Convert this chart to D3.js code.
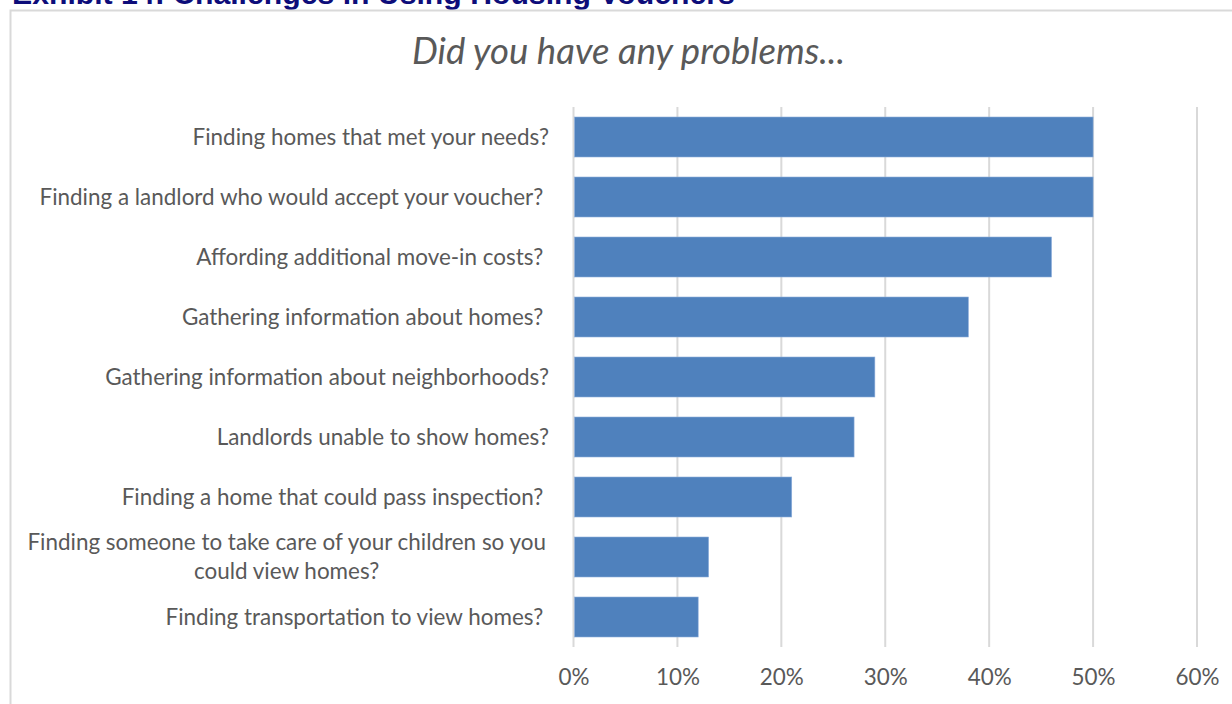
<!DOCTYPE html>
<html>
<head>
<meta charset="utf-8">
<script src="https://cdn.jsdelivr.net/npm/d3@7"></script>
<style>
  html, body { margin: 0; padding: 0; background: #fff; }
  svg { display: block; }
</style>
</head>
<body>
<script>
// Survey responses: share of voucher holders reporting each problem
const categories = [
  ["Finding homes that met your needs?"],
  ["Finding a landlord who would accept your voucher?\u00a0"],
  ["Affording additional move-in costs?\u00a0"],
  ["Gathering information about homes?\u00a0"],
  ["Gathering information about neighborhoods?"],
  ["Landlords unable to show homes?"],
  ["Finding a home that could pass inspection?\u00a0"],
  ["Finding someone to take care of your children so you", "could view homes?"],
  ["Finding transportation to view homes?\u00a0"]
];
const values = [0.50, 0.50, 0.46, 0.38, 0.29, 0.27, 0.21, 0.13, 0.12];
const tickValues = [0, 0.1, 0.2, 0.3, 0.4, 0.5, 0.6];

const exhibitTitle = "Exhibit 14: Challenges in Using Housing Vouchers";
const chartTitle = "Did you have any problems...";

const W = 1232, H = 704;
const labelFont = "Lato, 'Open Sans', 'DejaVu Sans', sans-serif";
const grey = "#595959";

const svg = d3.select("body").append("svg")
  .attr("width", W).attr("height", H);

// helper: pick a font size so a string spans a target width
function fitSize(text, family, style, weight, target) {
  const t = svg.append("text")
    .attr("font-family", family).attr("font-style", style)
    .attr("font-weight", weight).attr("font-size", 20)
    .text(text);
  const w = t.node().getComputedTextLength();
  t.remove();
  return 20 * target / w;
}

// Exhibit heading above the framed chart
const headSize = fitSize(exhibitTitle, "'Liberation Sans', Arial, sans-serif", "normal", "bold", 723);
svg.append("text")
  .attr("x", 12).attr("y", 3.5)
  .attr("font-family", "'Liberation Sans', Arial, sans-serif")
  .attr("font-weight", "bold")
  .attr("font-size", headSize)
  .attr("fill", "#0d0d7a")
  .text(exhibitTitle);

// Chart frame
svg.append("rect")
  .attr("x", 10.5).attr("y", 10.5)
  .attr("width", W + 20).attr("height", H + 20)
  .attr("fill", "none")
  .attr("stroke", "#d9d9d9")
  .attr("stroke-width", 2);

// Chart title
const titleSize = fitSize(chartTitle, labelFont, "italic", "normal", 433);
svg.append("text")
  .attr("x", 628.5).attr("y", 64)
  .attr("text-anchor", "middle")
  .attr("font-family", labelFont)
  .attr("font-style", "italic")
  .attr("font-size", titleSize)
  .attr("fill", grey)
  .text(chartTitle);

// Scales
const x = d3.scaleLinear().domain([0, 0.6]).range([573.5, 1197]);
const y = d3.scaleBand()
  .domain(d3.range(categories.length))
  .range([107, 647])
  .paddingInner(1 / 3)
  .paddingOuter(1 / 6);

const labelSize = fitSize("Finding a landlord who would accept your voucher?", labelFont, "normal", "normal", 504);

// Vertical gridlines
svg.append("g")
  .selectAll("line")
  .data(tickValues)
  .join("line")
  .attr("x1", d => x(d)).attr("x2", d => x(d))
  .attr("y1", 107).attr("y2", 647)
  .attr("stroke", "#d9d9d9")
  .attr("stroke-width", 2);

// Bars
svg.append("g")
  .selectAll("rect")
  .data(values)
  .join("rect")
  .attr("x", x(0) + 1)
  .attr("y", (d, i) => y(i))
  .attr("width", d => x(d) - x(0) - 1)
  .attr("height", y.bandwidth())
  .attr("fill", "#4f81bd")
  .attr("stroke", "#8eaedb")
  .attr("stroke-width", 0.6);

// Category labels (wrapped labels are centred on their block, single lines right-aligned)
const lineGap = 29;
const catG = svg.append("g")
  .attr("font-family", labelFont)
  .attr("font-size", labelSize)
  .attr("fill", grey);

categories.forEach((lines, i) => {
  const cy = y(i) + y.bandwidth() / 2;
  const right = 549;
  if (lines.length === 1) {
    catG.append("text")
      .attr("x", right).attr("y", cy)
      .attr("dy", "0.35em")
      .attr("text-anchor", "end")
      .text(lines[0]);
  } else {
    const probe = catG.append("text").text(lines[0]);
    const w0 = probe.node().getComputedTextLength();
    probe.remove();
    const cx = right - 3 - w0 / 2;
    lines.forEach((ln, j) => {
      catG.append("text")
        .attr("x", cx)
        .attr("y", cy + (j - (lines.length - 1) / 2) * lineGap)
        .attr("dy", "0.35em")
        .attr("text-anchor", "middle")
        .text(ln);
    });
  }
});

// X axis tick labels
const xAxis = d3.axisBottom(x)
  .tickValues(tickValues)
  .tickFormat(d3.format(".0%"))
  .tickSize(0)
  .tickPadding(0);
const axG = svg.append("g")
  .attr("transform", "translate(0,669)")
  .call(xAxis);
axG.select(".domain").remove();
axG.selectAll("text")
  .attr("font-family", labelFont)
  .attr("font-size", labelSize)
  .attr("fill", grey)
  .attr("dy", "0.71em");
</script>
</body>
</html>
